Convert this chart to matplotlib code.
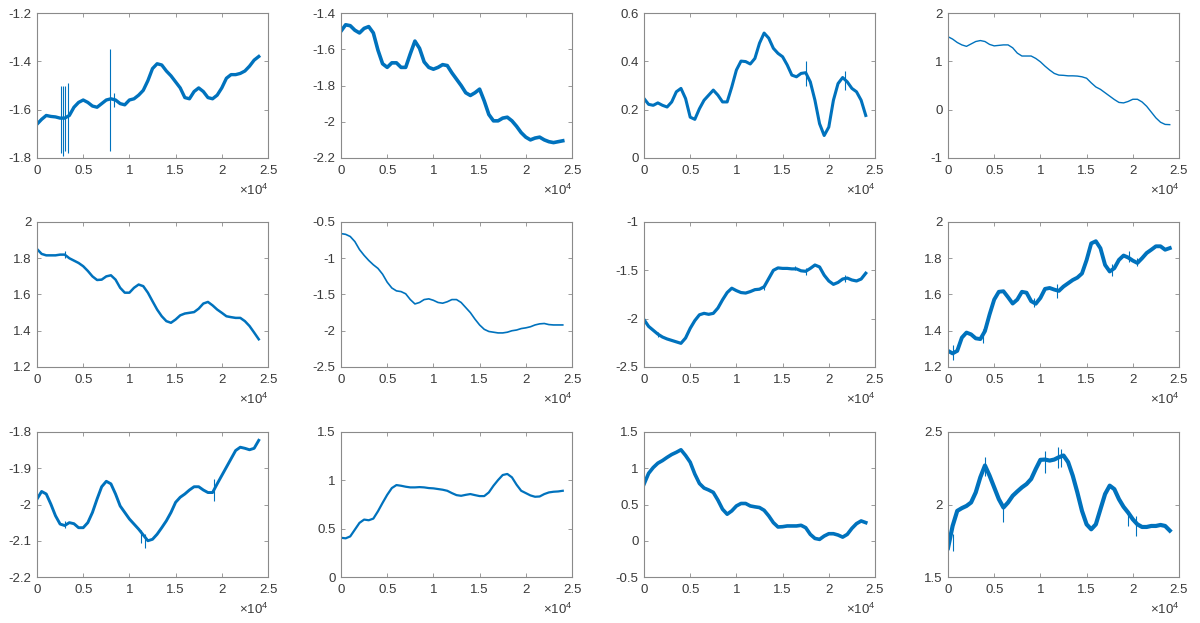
import numpy as np
import matplotlib
matplotlib.use('Agg')
import matplotlib.pyplot as plt

# sample index of every value (one reading per 500 samples)
samples = list(range(0, 24001, 500))

xtick_pos = [0, 5000, 10000, 15000, 20000, 25000]
xtick_labels = ['0', '0.5', '1', '1.5', '2', '2.5']

s1 = [-1.66, -1.64, -1.624, -1.628, -1.63, -1.635, -1.635, -1.624, -1.59, -1.57,
      -1.56, -1.57, -1.585, -1.59, -1.575, -1.56, -1.555, -1.56, -1.575, -1.58,
      -1.56, -1.555, -1.54, -1.52, -1.48, -1.43, -1.41, -1.415, -1.44, -1.46,
      -1.485, -1.51, -1.55, -1.555, -1.525, -1.51, -1.525, -1.55, -1.555, -1.54,
      -1.51, -1.47, -1.455, -1.455, -1.45, -1.44, -1.42, -1.395, -1.38]
s2 = [-1.50, -1.465, -1.47, -1.495, -1.51, -1.485, -1.475, -1.51, -1.605, -1.68,
      -1.70, -1.675, -1.675, -1.70, -1.70, -1.625, -1.555, -1.595, -1.67, -1.70,
      -1.71, -1.70, -1.685, -1.69, -1.73, -1.765, -1.80, -1.84, -1.855, -1.84,
      -1.82, -1.885, -1.96, -1.995, -1.995, -1.98, -1.975, -1.995, -2.025, -2.06,
      -2.085, -2.10, -2.09, -2.085, -2.10, -2.11, -2.115, -2.11, -2.105]
s3 = [0.246, 0.222, 0.218, 0.228, 0.218, 0.211, 0.232, 0.274, 0.288, 0.246,
      0.169, 0.16, 0.204, 0.239, 0.26, 0.281, 0.26, 0.232, 0.232, 0.294,
      0.364, 0.401, 0.399, 0.389, 0.412, 0.475, 0.517, 0.496, 0.454, 0.433,
      0.419, 0.385, 0.343, 0.336, 0.35, 0.353, 0.315, 0.239, 0.142, 0.093,
      0.128, 0.239, 0.308, 0.333, 0.315, 0.288, 0.274, 0.239, 0.176]
s4 = [1.51, 1.46, 1.39, 1.34, 1.31, 1.36, 1.41, 1.43, 1.41, 1.35,
      1.32, 1.33, 1.34, 1.34, 1.28, 1.17, 1.11, 1.11, 1.11, 1.06,
      0.99, 0.90, 0.82, 0.75, 0.715, 0.71, 0.70, 0.70, 0.695, 0.68,
      0.65, 0.555, 0.47, 0.42, 0.35, 0.28, 0.21, 0.15, 0.14, 0.17,
      0.215, 0.215, 0.16, 0.07, -0.05, -0.17, -0.26, -0.305, -0.31]
s5 = [1.851, 1.824, 1.816, 1.816, 1.816, 1.82, 1.82, 1.80, 1.787, 1.774,
      1.756, 1.73, 1.70, 1.68, 1.682, 1.70, 1.706, 1.682, 1.637, 1.61,
      1.61, 1.637, 1.655, 1.646, 1.61, 1.563, 1.517, 1.48, 1.453, 1.444,
      1.462, 1.485, 1.495, 1.499, 1.503, 1.522, 1.55, 1.559, 1.54, 1.517,
      1.499, 1.48, 1.475, 1.471, 1.471, 1.453, 1.426, 1.39, 1.353]
s6 = [-0.66, -0.67, -0.70, -0.77, -0.88, -0.96, -1.03, -1.09, -1.14, -1.22,
      -1.33, -1.41, -1.45, -1.46, -1.49, -1.57, -1.63, -1.61, -1.57, -1.56,
      -1.58, -1.61, -1.62, -1.60, -1.57, -1.57, -1.61, -1.68, -1.75, -1.84,
      -1.92, -1.98, -2.01, -2.02, -2.03, -2.03, -2.02, -2.00, -1.99, -1.97,
      -1.96, -1.945, -1.92, -1.905, -1.90, -1.915, -1.92, -1.92, -1.92]
s7 = [-2.01, -2.08, -2.12, -2.16, -2.19, -2.21, -2.225, -2.24, -2.255, -2.2,
      -2.10, -2.02, -1.96, -1.945, -1.955, -1.945, -1.89, -1.805, -1.73, -1.685,
      -1.71, -1.73, -1.735, -1.72, -1.70, -1.695, -1.67, -1.585, -1.50, -1.475,
      -1.48, -1.48, -1.485, -1.485, -1.505, -1.51, -1.48, -1.445, -1.465, -1.55,
      -1.61, -1.645, -1.625, -1.59, -1.58, -1.60, -1.61, -1.59, -1.53]
s8 = [1.289, 1.275, 1.289, 1.362, 1.39, 1.38, 1.358, 1.354, 1.398, 1.49,
      1.572, 1.615, 1.618, 1.585, 1.55, 1.572, 1.615, 1.61, 1.563, 1.549,
      1.581, 1.631, 1.636, 1.627, 1.62, 1.644, 1.662, 1.68, 1.693, 1.716,
      1.79, 1.882, 1.894, 1.855, 1.763, 1.727, 1.745, 1.791, 1.815, 1.804,
      1.787, 1.774, 1.80, 1.829, 1.847, 1.866, 1.866, 1.847, 1.856]
s9 = [-1.985, -1.964, -1.971, -1.999, -2.031, -2.054, -2.058, -2.05, -2.053, -2.064,
      -2.064, -2.05, -2.022, -1.985, -1.951, -1.936, -1.943, -1.971, -2.004, -2.022,
      -2.04, -2.054, -2.068, -2.084, -2.10, -2.096, -2.082, -2.064, -2.045, -2.022,
      -1.994, -1.98, -1.971, -1.96, -1.951, -1.951, -1.96, -1.967, -1.967, -1.943,
      -1.92, -1.897, -1.874, -1.851, -1.842, -1.845, -1.849, -1.845, -1.823]
s10 = [0.406, 0.40, 0.42, 0.49, 0.56, 0.594, 0.587, 0.604, 0.68, 0.767,
       0.85, 0.92, 0.951, 0.944, 0.934, 0.927, 0.927, 0.93, 0.927, 0.92,
       0.917, 0.91, 0.903, 0.892, 0.868, 0.847, 0.84, 0.85, 0.858, 0.847,
       0.837, 0.837, 0.875, 0.944, 1.003, 1.055, 1.066, 1.031, 0.955, 0.892,
       0.868, 0.844, 0.83, 0.833, 0.858, 0.875, 0.882, 0.885, 0.892]
s11 = [0.78, 0.93, 1.01, 1.07, 1.106, 1.15, 1.19, 1.22, 1.255, 1.176,
       1.083, 0.92, 0.79, 0.727, 0.70, 0.667, 0.56, 0.435, 0.366, 0.412,
       0.48, 0.514, 0.514, 0.48, 0.468, 0.458, 0.42, 0.343, 0.25, 0.19,
       0.194, 0.204, 0.204, 0.204, 0.213, 0.18, 0.088, 0.032, 0.019, 0.065,
       0.097, 0.097, 0.079, 0.05, 0.088, 0.171, 0.236, 0.273, 0.25]
s12 = [1.70, 1.852, 1.956, 1.975, 1.99, 2.014, 2.083, 2.188, 2.269, 2.199,
       2.118, 2.037, 1.979, 2.014, 2.06, 2.09, 2.118, 2.141, 2.176, 2.245,
       2.308, 2.31, 2.303, 2.31, 2.326, 2.338, 2.292, 2.199, 2.083, 1.956,
       1.863, 1.829, 1.863, 1.968, 2.072, 2.13, 2.106, 2.037, 1.984, 1.944,
       1.898, 1.863, 1.845, 1.845, 1.852, 1.852, 1.859, 1.852, 1.82]

# short glitches: sample index, low value, high value
spikes1 = [(2560, -1.78, -1.50), (2810, -1.79, -1.50), (3070, -1.77, -1.50),
           (3320, -1.78, -1.49), (7900, -1.77, -1.35), (8300, -1.59, -1.53)]
spikes3 = [(17500, 0.30, 0.40), (21800, 0.28, 0.36)]
spikes5 = [(3000, 1.80, 1.84)]
spikes7 = [(1500, -2.19, -2.14), (13000, -1.70, -1.64), (16300, -1.50, -1.46),
           (17500, -1.55, -1.48), (21700, -1.62, -1.55)]
spikes8 = [(500, 1.24, 1.32), (3800, 1.33, 1.41), (9300, 1.53, 1.58),
           (11800, 1.58, 1.66), (17800, 1.70, 1.77), (19600, 1.78, 1.84),
           (20500, 1.76, 1.80)]
spikes9 = [(3000, -2.065, -2.045), (11300, -2.105, -2.07), (11700, -2.12, -2.08),
           (19200, -1.99, -1.93)]
spikes12 = [(500, 1.68, 1.80), (4000, 2.20, 2.33), (6000, 1.88, 2.00),
            (10500, 2.22, 2.37), (11900, 2.25, 2.40), (12200, 2.26, 2.38),
            (19500, 1.85, 1.95), (20300, 1.78, 1.92)]

series = [s1, s2, s3, s4, s5, s6, s7, s8, s9, s10, s11, s12]
spikes = [spikes1, [], spikes3, [], spikes5, [], spikes7, spikes8, spikes9, [], [], spikes12]
ylims = [(-1.8, -1.2), (-2.2, -1.4), (0, 0.6), (-1, 2),
         (1.2, 2), (-2.5, -0.5), (-2.5, -1), (1.2, 2),
         (-2.2, -1.8), (0, 1.5), (-0.5, 1.5), (1.5, 2.5)]
ysteps = [0.2, 0.2, 0.2, 1, 0.2, 0.5, 0.5, 0.2, 0.1, 0.5, 0.5, 0.5]

# line thickness stands in for the sensor noise band
widths = [2.4, 2.6, 2.2, 1.0, 1.8, 1.2, 2.3, 2.8, 2.1, 1.6, 2.6, 3.0]

plt.rcParams['font.family'] = ['Liberation Sans', 'DejaVu Sans']
plt.rcParams['axes.unicode_minus'] = False
plt.rcParams['mathtext.fontset'] = 'custom'
plt.rcParams['mathtext.rm'] = 'Liberation Sans'

blue = '#0072BD'
frame = '#8a8a8a'
txt = '#3a3a3a'

fig = plt.figure(figsize=(12, 6.23), dpi=100)
W, H = 1200, 623
lefts = [37, 341, 644, 948]
tops = [13, 222, 432]
aw, ah = 231, 145

for i, ys in enumerate(series):
    r, c = divmod(i, 4)
    ax = fig.add_axes([lefts[c] / W, 1 - (tops[r] + ah) / H, aw / W, ah / H])
    ax.plot(samples, ys, color=blue, lw=widths[i], solid_joinstyle='round')
    for sx, lo, hi in spikes[i]:
        ax.vlines(sx, lo, hi, color=blue, lw=0.8)
    lo, hi = ylims[i]
    ax.set_xlim(0, 25000)
    ax.set_ylim(lo, hi)
    ax.set_xticks(xtick_pos)
    ax.set_xticklabels(xtick_labels)
    yt = np.round(np.arange(lo, hi + ysteps[i] / 2, ysteps[i]), 3)
    ax.set_yticks(yt)
    ax.set_yticklabels(['%g' % v for v in yt])
    ax.tick_params(direction='in', length=3, width=0.6, color=frame,
                   labelcolor=txt, labelsize=9.5, top=True, right=True)
    ax.tick_params(axis='x', pad=5)
    ax.tick_params(axis='y', pad=4)
    for sp in ax.spines.values():
        sp.set_color(frame)
        sp.set_linewidth(0.8)
    ax.text(1.0, -0.225, r'$\times\mathregular{10^{4}}$', transform=ax.transAxes,
            ha='right', va='center', fontsize=9.5, color=txt)

fig.savefig('out.png', dpi=100, facecolor='white')
